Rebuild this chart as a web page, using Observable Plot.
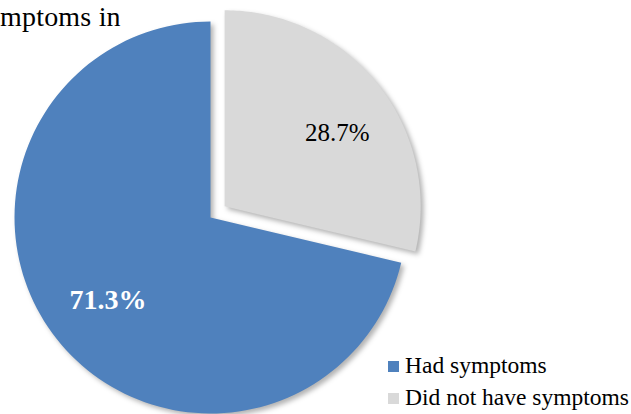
<!DOCTYPE html>
<html>
<head>
<meta charset="utf-8">
<script src="https://cdn.jsdelivr.net/npm/d3@7"></script>
<script src="https://cdn.jsdelivr.net/npm/@observablehq/plot@0.6"></script>
<style>
  html, body { margin: 0; padding: 0; background: #fff; }
  #wrap { position: relative; width: 631px; height: 414px; overflow: hidden; font-family: "Liberation Serif", "DejaVu Serif", serif; }
  #wrap svg g.slices path { filter: drop-shadow(3px 3px 2.5px rgba(0,0,0,0.3)); }
  #title { position: absolute; left: 0px; top: 1px; font-size: 28px; letter-spacing: 0.2px; color: #000; white-space: nowrap; }
  #legend { position: absolute; left: 388px; top: 349px; font-size: 23.5px; color: #000; }
  #legend .row { display: flex; align-items: center; height: 32px; white-space: nowrap; }
  #legend .sw { width: 11px; height: 11px; margin-right: 6px; margin-top: 2px; }
</style>
</head>
<body>
<div id="wrap">
  <div id="chart"></div>
  <div id="title">mptoms in</div>
  <div id="legend"></div>
</div>
<script>
const categories = ["Had symptoms", "Did not have symptoms"];
const values = [71.3, 28.7];
const labels = ["71.3%", "28.7%"];
const colors = ["#4F81BD", "#D9D9D9"];
const exploded = [0, 0.092];

// pie layout: "Did not have symptoms" starts at 12 o'clock going clockwise
const total = d3.sum(values);
const start = 2 * Math.PI * values[1] / total;
const arcs = d3.pie().sort(null).startAngle(start).endAngle(start + 2 * Math.PI)(values);

const pts = [];
const labelPts = [];
arcs.forEach((a, i) => {
  const mid = (a.startAngle + a.endAngle) / 2;
  const ox = exploded[i] * Math.sin(mid), oy = exploded[i] * Math.cos(mid);
  const n = 120;
  pts.push({cat: categories[i], x: ox, y: oy});
  for (let k = 0; k <= n; k++) {
    const t = a.startAngle + (a.endAngle - a.startAngle) * k / n;
    pts.push({cat: categories[i], x: ox + Math.sin(t), y: oy + Math.cos(t)});
  }
  pts.push({cat: categories[i], x: ox, y: oy});
  labelPts.push({cat: categories[i], label: labels[i], x: ox + 0.68 * Math.sin(mid), y: oy + 0.68 * Math.cos(mid)});
});

const plot = Plot.plot({
  width: 631,
  height: 414,
  margin: 0,
  x: {domain: [-1, 1], range: [14, 406], axis: null},
  y: {domain: [-1, 1], range: [413, 21], axis: null},
  color: {domain: categories, range: colors},
  style: {fontFamily: "'Liberation Serif', 'DejaVu Serif', serif", background: "transparent"},
  marks: [
    Plot.line(pts, {x: "x", y: "y", z: "cat", fill: "cat", stroke: null, curve: "linear", className: "slices"}),
    Plot.text(labelPts.filter(d => d.cat === categories[0]), {x: "x", y: "y", text: "label", fill: "#ffffff", fontSize: 28, fontWeight: "bold", dx: 2, dy: 0}),
    Plot.text(labelPts.filter(d => d.cat === categories[1]), {x: "x", y: "y", text: "label", fill: "#000000", fontSize: 25, dx: 8, dy: 9})
  ]
});
document.getElementById("chart").appendChild(plot);

const legend = document.getElementById("legend");
categories.forEach((c, i) => {
  const row = document.createElement("div");
  row.className = "row";
  const sw = document.createElement("div");
  sw.className = "sw";
  sw.style.background = colors[i];
  const tx = document.createElement("span");
  tx.textContent = c;
  row.appendChild(sw); row.appendChild(tx);
  legend.appendChild(row);
});
</script>
</body>
</html>
